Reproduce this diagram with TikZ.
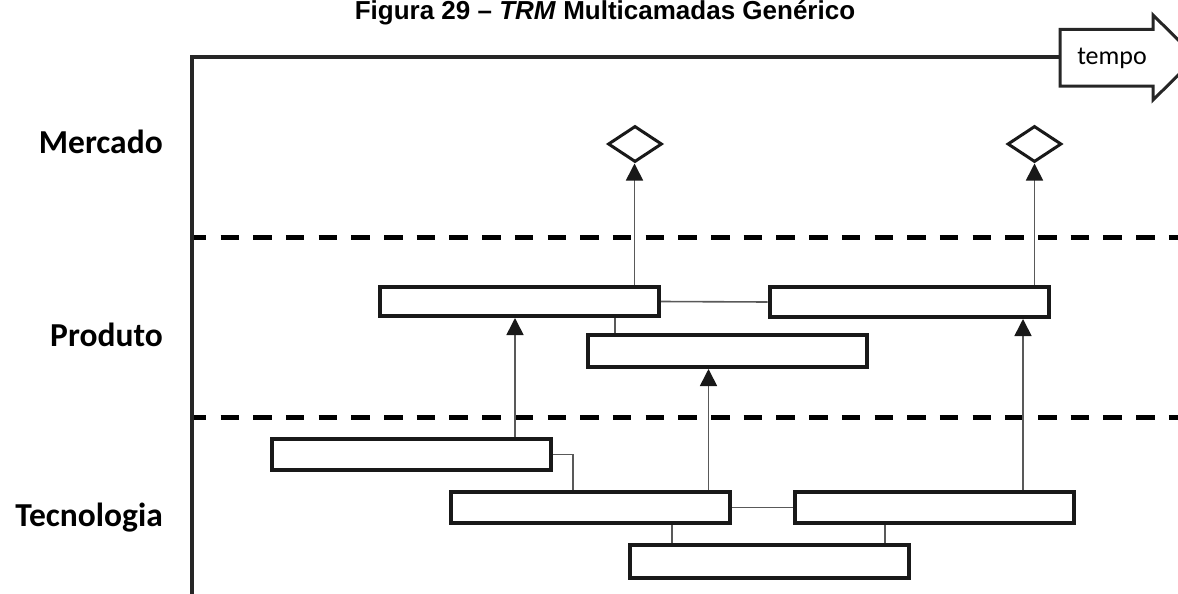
\documentclass[tikz,border=0pt]{standalone}
\usepackage{fontspec}
\setmainfont{Carlito}
\newfontfamily\titlefont{Liberation Sans}
\usetikzlibrary{arrows.meta,shapes.geometric,backgrounds}
\begin{document}
\begin{tikzpicture}[x=1pt,y=-1pt,
  layer/.style={font=\fontsize{33.5}{38}\selectfont\bfseries, inner sep=0pt, anchor=base east},
  bar/.style={draw=black!90, line width=4pt, fill=white, minimum width=279pt, minimum height=31pt, inner sep=0pt},
  gem/.style={draw=black!90, line width=3pt, fill=white, shape=diamond, minimum width=54pt, minimum height=36pt, inner sep=0pt},
  link/.style={draw=black!65, line width=1.6pt},
  up/.style={link, -{Triangle[length=17pt,width=17pt,color=black!90]}},
  divider/.style={line width=5pt, dash pattern=on 18.5pt off 14.2pt, dash phase=4.2pt},
  axisline/.style={line width=4pt, draw=black!85}]
\useasboundingbox (0,0) rectangle (1178,594);
\clip (0,0) rectangle (1178,594);

% title
\node[font=\titlefont\fontsize{26}{30}\selectfont\bfseries, anchor=base, inner sep=0pt] (title) at (605,19.5)
  {Figura 29 – \textit{TRM} Multicamadas Genérico};

% layer names
\node[layer] (mercado) at (163,153) {Mercado};
\node[layer] (produto) at (163,346) {Produto};
\node[layer] (tecnologia) at (163,526) {Tecnologia};

% layer separators
\draw[divider] (192,237) -- (1180,237);
\draw[divider] (192,417) -- (1180,417);

% time axis with arrow
\node[font=\fontsize{26}{30}\selectfont, inner sep=0pt, anchor=base] (tempo) at (1112,65) {tempo};
\coordinate (corner) at (191.5,57.5);
\coordinate (shaft) at (1060,57.5);
\coordinate (foot) at (191.5,600);
\draw[axisline] (foot) -- (corner) -- (shaft);
\draw[line width=3pt, draw=black!85, line join=miter]
  (1060,29.5) -- (1153,29.5) -- (1153,15) -- (1196,57.5) -- (1153,100) -- (1153,86) -- (1060,86) -- cycle;

% market events
\node[gem] (m1) at (635,144) {};
\node[gem] (m2) at (1034.5,144) {};

% product bars
\node[bar, minimum height=29pt] (p1) at (519,301.5) {};
\node[bar, minimum height=30pt] (p2) at (909,302) {};
\node[bar, minimum height=32pt] (p3) at (727,351) {};

% technology bars
\node[bar] (t1) at (411.5,454.5) {};
\node[bar] (t2) at (590.5,507.5) {};
\node[bar] (t4) at (934,507.5) {};
\node[bar, minimum height=33pt] (t3) at (769.5,561.5) {};

% links between bars, kept behind them
\begin{scope}[on background layer]
\draw[link] (p1.east) -- (p2.west);
\draw[link] (615,0 |- p1.south) -- (615,0 |- p3.north);
\draw[link] (t1.east) -| (573,0 |- t2.north);
\draw[link] (t2.east) -- (t4.west);
\draw[link] (672,0 |- t2.south) -- (672,0 |- t3.north);
\draw[link] (885,0 |- t4.south) -- (885,0 |- t3.north);
\end{scope}

% dependencies pointing upwards
\draw[up] (515,0 |- t1.north) -- (515,0 |- p1.south);
\draw[up] (708.5,0 |- t2.north) -- (708.5,0 |- p3.south);
\draw[up] (1023,0 |- t4.north) -- (1023,0 |- p2.south);
\draw[up] (634.5,0 |- p1.north) -- (634.5,0 |- m1.south);
\draw[up] (1034.5,0 |- p2.north) -- (1034.5,0 |- m2.south);
\end{tikzpicture}
\end{document}
